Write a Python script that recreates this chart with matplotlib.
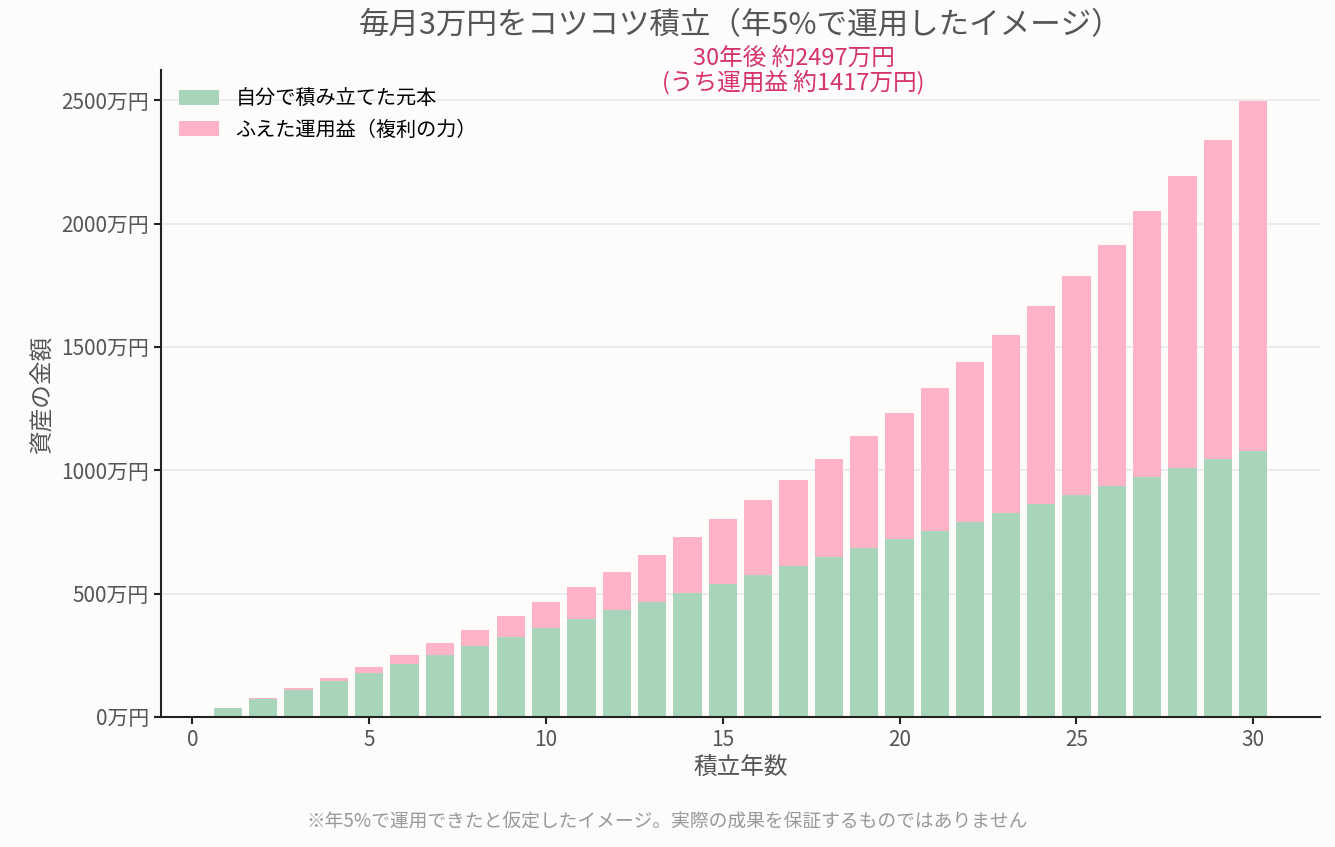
import matplotlib
matplotlib.use("Agg")
import matplotlib.pyplot as plt
from matplotlib.ticker import FuncFormatter

plt.rcParams["font.family"] = ["Noto Sans CJK JP", "DejaVu Sans"]

# 積立年数と残高（万円）
years = list(range(1, 31))
principal = [36, 72, 108, 144, 180, 216, 252, 288, 324, 360,
             396, 432, 468, 504, 540, 576, 612, 648, 684, 720,
             756, 792, 828, 864, 900, 936, 972, 1008, 1044, 1080]
total = [36.8, 75.6, 116.3, 159.0, 204.0, 251.3, 301.2, 353.2, 408.1, 466.1,
         526.5, 589.3, 657.3, 727.8, 801.9, 879.7, 961.6, 1047.6, 1138.0, 1233.1,
         1333.0, 1438.1, 1548.5, 1664.5, 1786.5, 1914.8, 2049.6, 2191.3, 2340.2, 2496.8]
gain = [t - p for t, p in zip(total, principal)]

bg = "#fdfcfb"
green = "#a8d5ba"
pink = "#ffb3c6"
accent = "#d6336c"

fig, ax = plt.subplots(figsize=(13.35, 8.47), dpi=100)
fig.patch.set_facecolor(bg)
ax.set_facecolor(bg)
fig.subplots_adjust(left=0.1206, right=0.9888, top=0.917, bottom=0.1535)

ax.bar(years, principal, width=0.8, color=green, label="自分で積み立てた元本", zorder=2)
ax.bar(years, gain, width=0.8, bottom=principal, color=pink,
       label="ふえた運用益（複利の力）", zorder=2)

ax.grid(axis="y", color="#e8e8e8", linewidth=1.2, zorder=0)
ax.set_axisbelow(True)
for s in ["top", "right"]:
    ax.spines[s].set_visible(False)
for s in ["left", "bottom"]:
    ax.spines[s].set_color("#222222")
    ax.spines[s].set_linewidth(1.5)

ax.yaxis.set_major_formatter(FuncFormatter(lambda v, p: f"{int(v)}万円"))
ax.set_yticks([0, 500, 1000, 1500, 2000, 2500])
ax.tick_params(axis="both", labelsize=15, labelcolor="#555555", color="#222222",
               width=1.5, length=5)

ax.set_xlabel("積立年数", fontsize=17, color="#555555", labelpad=4)
ax.set_ylabel("資産の金額", fontsize=17, color="#555555", labelpad=6)
ax.set_title("毎月3万円をコツコツ積立（年5%で運用したイメージ）", fontsize=22,
             color="#555555", pad=26)

ax.text(17.0, 2622, f"30年後 約{total[-1]:.0f}万円\n(うち運用益 約{gain[-1]:.0f}万円)",
        ha="center", va="center", fontsize=17, color=accent, linespacing=1.0)

leg = ax.legend(loc="upper left", frameon=False, fontsize=14.5, handlelength=2.0,
                handleheight=0.8, borderaxespad=0.5, labelspacing=0.5)

fig.text(0.5, 0.029, "※年5%で運用できたと仮定したイメージ。実際の成果を保証するものではありません",
         ha="center", va="center", fontsize=13.5, color="#999999")

fig.savefig("out.png", dpi=100, facecolor=bg)
